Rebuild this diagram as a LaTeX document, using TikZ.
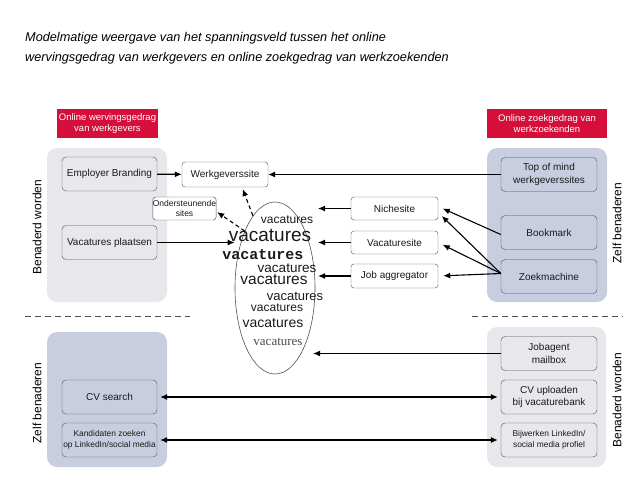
\documentclass[tikz,border=0pt]{standalone}
\usepackage{fontspec}
\setmainfont{Liberation Sans}
\newfontfamily\woordmono{Liberation Mono}
\newfontfamily\woordserif{Liberation Serif}
\usetikzlibrary{arrows.meta, positioning, shapes.geometric}
\definecolor{kopred}{HTML}{D50F3A}
\definecolor{vlakgrijs}{HTML}{E8E8EC}
\definecolor{vlakblauw}{HTML}{C8CEE0}
\definecolor{randgrijs}{HTML}{505050}
\definecolor{tekstdonker}{HTML}{1A1A1A}
\tikzset{
  titel/.style    = {font=\fontsize{12.7}{15}\selectfont\itshape, inner sep=0pt},
  kop/.style      = {fill=kopred, text=white, align=center, inner sep=0pt,
                     minimum height=29pt, font=\fontsize{9.5}{11.5}\selectfont},
  vlak/.style     = {rounded corners=10pt},
  kader/.style    = {draw=randgrijs, rounded corners=4pt, align=center, inner sep=0pt,
                     text=tekstdonker, minimum width=95pt, minimum height=34pt,
                     font=\fontsize{10}{12.5}\selectfont},
  kaderklein/.style = {kader, font=\fontsize{8.4}{11}\selectfont},
  site/.style     = {draw=randgrijs, fill=white, rounded corners=3pt, inner sep=0pt,
                     text=tekstdonker, minimum width=87pt, minimum height=23pt,
                     font=\fontsize{10}{12}\selectfont, align=center},
  pijl/.style     = {-{Latex[length=7pt, width=6pt]}, line width=1.1pt},
  dubbelpijl/.style = {{Latex[length=7pt, width=6pt]}-{Latex[length=7pt, width=6pt]},
                     line width=1.1pt, shorten <=3pt, shorten >=3pt},
  stippel/.style  = {pijl, dash pattern=on 4pt off 3pt},
  scheiding/.style = {randgrijs, line width=0.9pt, dash pattern=on 6pt off 4pt},
  zijtekst/.style = {rotate=90, font=\fontsize{12}{13}\selectfont},
  woord/.style    = {inner sep=0pt, text=tekstdonker},
}

\begin{document}
\begin{tikzpicture}[x=1pt, y=-1pt]
  \useasboundingbox (0,0) rectangle (632,493);
  % titel
  \node[titel, anchor=base west] (titel1) at (25,41)
    {Modelmatige weergave van het spanningsveld tussen het online};
  \node[titel, anchor=base west] (titel2) at (25,61)
    {wervingsgedrag van werkgevers en online zoekgedrag van werkzoekenden};

  % achtergrondvlakken
  \fill[vlakgrijs, vlak] (47,148) rectangle (167,302);
  \fill[vlakblauw, vlak] (487,148) rectangle (607,302);
  \fill[vlakblauw, vlak] (47,332) rectangle (167,467);
  \fill[vlakgrijs, vlak] (487,327) rectangle (606,467);
  \draw[scheiding] (25,316) -- (190,316);
  \draw[scheiding] (472,316) -- (623,316);

  \node[kop, minimum width=101pt] (kopwerving) at (107.5,123.5) {Online wervingsgedrag\\van werkgevers};
  \node[kop, minimum width=120pt] (kopzoek) at (547,123.5) {Online zoekgedrag van\\werkzoekenden};

  \node[zijtekst] (zijlb) at (37,227) {Benaderd worden};
  \node[zijtekst] (zijrb) at (617,223) {Zelf benaderen};
  \node[zijtekst] (zijlo) at (37,403) {Zelf benaderen};
  \node[zijtekst] (zijro) at (617,400) {Benaderd worden};

  % werkgevers
  \node[kader] (branding) at (109.5,174) {Employer Branding};
  \node[kader] (plaatsen) at (109.5,242.5) {Vacatures plaatsen};
  \node[kader] (cvsearch) at (109.5,397) {CV search};
  \node[kaderklein] (kandidaten) at (109.5,440) {Kandidaten zoeken\\op LinkedIn/social media};

  % werkzoekenden
  \node[kader, minimum width=96pt] (topofmind) at (549,174.5) {Top of mind\\werkgeverssites};
  \node[kader, minimum width=96pt] (bookmark) at (549,232.5) {Bookmark};
  \node[kader, minimum width=96pt] (zoekmachine) at (549,276.5) {Zoekmachine};
  \node[kader, minimum width=96pt] (jobagent) at (549,353.5) {Jobagent\\mailbox};
  \node[kader, minimum width=96pt] (cvupload) at (549,397) {CV uploaden\\bij vacaturebank};
  \node[kaderklein, minimum width=96pt] (bijwerken) at (549,440) {Bijwerken LinkedIn/\\social media profiel};

  % sites
  \node[site, minimum width=86pt, minimum height=25pt] (werkgsite) at (225,174.5) {Werkgeverssite};
  \node[site, minimum width=63pt, font=\fontsize{8.5}{10.5}\selectfont] (ondersteun) at (184.5,208.5) {Ondersteunende\\sites};
  \node[site] (niche) at (394.5,208.5) {Nichesite};
  \node[site] (vacsite) at (394.5,242.5) {Vacaturesite};
  \node[site, minimum height=24pt] (jobagg) at (394.5,276) {Job aggregator};

  % vacatures
  \node[ellipse, draw=randgrijs, line width=0.6pt, minimum width=80pt, minimum height=172pt,
        inner sep=0pt] (wolk) at (275,288) {};
  \node[woord, font=\fontsize{12}{12}\selectfont] (woord1) at (287,220) {vacatures};
  \node[woord, font=\fontsize{19}{19}\selectfont] (woord2) at (270,235) {vacatures};
  \node[woord, font=\fontsize{15}{15}\selectfont\woordmono\bfseries] (woord3) at (263,255) {vacatures};
  \node[woord, font=\fontsize{13.5}{14}\selectfont] (woord4) at (287,268) {vacatures};
  \node[woord, font=\fontsize{15.5}{16}\selectfont] (woord5) at (274,280) {vacatures};
  \node[woord, font=\fontsize{13}{13}\selectfont] (woord6) at (295,296) {vacatures};
  \node[woord, font=\fontsize{12}{12}\selectfont] (woord7) at (277,308) {vacatures};
  \node[woord, font=\fontsize{14}{14}\selectfont] (woord8) at (273,323) {vacatures};
  \node[woord, font=\fontsize{13}{13}\selectfont\woordserif, text=black!70] (woord9) at (278,342) {vacatures};

  \coordinate (sitepunt) at (318,0);
  \coordinate (mailpunt) at (313,0);

  % verbindingen
  \draw[pijl] (branding) -- (werkgsite);
  \draw[pijl] (topofmind) -- (werkgsite);
  \draw[pijl] (plaatsen.east) -- (plaatsen.east -| wolk.west);
  \draw[pijl] (niche.west) -- (niche.west -| sitepunt);
  \draw[pijl] (vacsite.west) -- (vacsite.west -| sitepunt);
  \draw[pijl] (jobagg.west) -- (jobagg.west -| sitepunt);
  \draw[pijl, shorten >=5pt] ([yshift=-2pt]bookmark.west) -- ([yshift=2pt]niche.east);
  \draw[pijl, shorten >=5pt] ([yshift=3pt]zoekmachine.west) -- ([yshift=-4pt]niche.east);
  \draw[pijl, shorten >=5pt] ([yshift=3pt]zoekmachine.west) -- (vacsite.east);
  \draw[pijl, shorten >=5pt] ([yshift=3pt]zoekmachine.west) -- (jobagg.east);
  \draw[stippel, shorten >=2pt] (wolk.107) -- ([xshift=17pt]werkgsite.south);
  \draw[stippel, shorten >=1pt] (wolk.118) -- ([yshift=-3pt]ondersteun.east);
  \draw[pijl] (jobagent.west) -- (jobagent.west -| mailpunt);
  \draw[dubbelpijl] (cvsearch) -- (cvupload);
  \draw[dubbelpijl] (kandidaten) -- (bijwerken);
\end{tikzpicture}
\end{document}
